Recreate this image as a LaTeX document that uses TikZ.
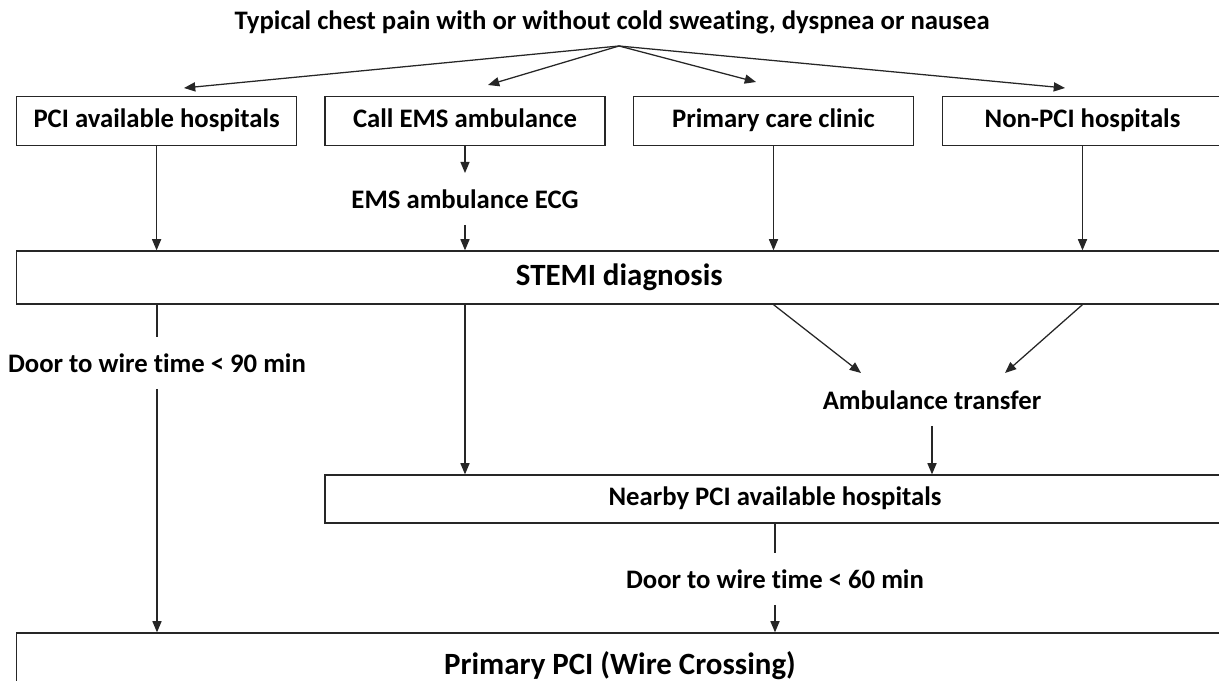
\documentclass[tikz,border=0pt]{standalone}
\usepackage{fontspec}
\setmainfont[Ligatures=NoCommon]{Carlito}
\usetikzlibrary{arrows.meta}

\begin{document}
\begin{tikzpicture}[
            x = 0.025cm, y = -0.025cm, % one unit = one pixel, y downwards
            > = {Triangle[length=8pt, width=6.5pt]}, % arrow head style
            line width = 0.9pt, % line style
            draw = black!85
        ]

        \tikzstyle{box}=[
            draw = black!85,
            inner sep = 0pt,
            minimum width = 7cm,
            minimum height = 1.21cm,
            text height = 13.5pt,
            text depth = 4pt,
            font = \fontsize{19}{22}\selectfont\bfseries
        ]
        \tikzstyle{bigbox}=[box, text height = 16pt, text depth = 4.5pt, font = \fontsize{22}{26}\selectfont\bfseries]
        \tikzstyle{note}=[
            inner sep = 0pt,
            minimum height = 36pt,
            font = \fontsize{19}{22}\selectfont\bfseries
        ]

        \clip (0,0) rectangle (1219,681);

        % top line
        \node[note, minimum height=0pt] (title) at (612,22) {Typical chest pain with or without cold sweating, dyspnea or nausea};
        \coordinate (apex) at (619,46);

        % first contact
        \node[box] (pci)  at (156.6,121) {PCI available hospitals};
        \node[box] (ems)  at (465,121)   {Call EMS ambulance};
        \node[box] (prim) at (773.5,121) {Primary care clinic};
        \node[box] (non)  at (1082.5,121) {Non-PCI hospitals};

        \coordinate (t1) at (184,88);
        \coordinate (t2) at (488,85);
        \coordinate (t3) at (756,82);
        \coordinate (t4) at (1065,88);

        \node[note] (ecg) at (465,199) {EMS ambulance ECG};

        \node[bigbox, minimum width=30.125cm, minimum height=1.325cm] (stemi) at (619.3,277.5) {STEMI diagnosis};

        \node[note] (door90) at (157,363) {Door to wire time < 90 min};
        \node[note] (amb) at (932,400) {Ambulance transfer};
        \coordinate (a1) at (861,373);
        \coordinate (a2) at (1005,373);

        \node[box, minimum width=22.5cm, minimum height=1.2cm] (near) at (775,499) {Nearby PCI available hospitals};
        \node[note] (door60) at (775,579) {Door to wire time < 60 min};

        \node[bigbox, minimum width=30.15cm, minimum height=1.65cm] (ppci) at (620,666) {Primary PCI (Wire Crossing)};

        % fan out
        \draw[->] (apex) -- (t1);
        \draw[->] (apex) -- (t2);
        \draw[->] (apex) -- (t3);
        \draw[->] (apex) -- (t4);

        % into the diagnosis
        \draw[->] (pci.south) -- (pci.south |- stemi.north);
        \draw[->] (ems.south) -- (ecg.north);
        \draw[->] (ecg.south) -- (ecg.south |- stemi.north);
        \draw[->] (prim.south) -- (prim.south |- stemi.north);
        \draw[->] (non.south) -- (non.south |- stemi.north);

        % after the diagnosis
        \draw (door90.north |- stemi.south) -- (door90.north);
        \draw[->] (door90.south) -- (door90.south |- ppci.north);
        \draw[->] (ecg.south |- stemi.south) -- (ecg.south |- near.north);
        \draw[->] (prim.south |- stemi.south) -- (a1);
        \draw[->] (non.south |- stemi.south) -- (a2);
        \draw[->] (amb.south) -- (amb.south |- near.north);
        \draw (near.south) -- (door60.north);
        \draw[->] (door60.south) -- (door60.south |- ppci.north);
    \end{tikzpicture}
\end{document}
